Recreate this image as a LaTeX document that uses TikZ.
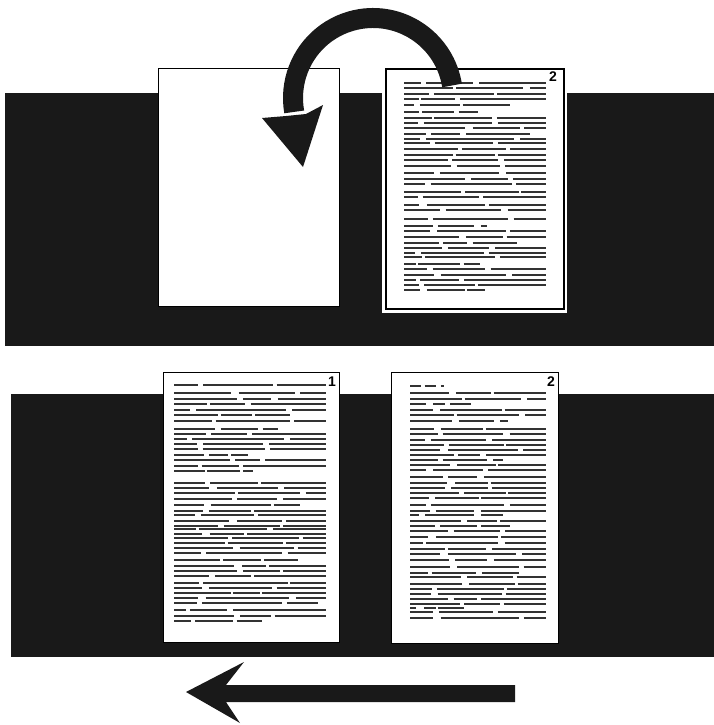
\documentclass[tikz,border=0pt]{standalone}
\usepackage{fontspec}
\setsansfont{Liberation Sans}
\tikzset{
  band/.style={fill=black!90, draw=none},
  paper/.style={fill=white, draw=black, line width=0.9},
  txt/.style={line width=1.4, draw=black!80},
  pnum/.style={font=\sffamily\bfseries\fontsize{14}{14}\selectfont, inner sep=0pt, text=black},
  bigarrow/.style={fill=black!90, draw=none}
}
\newcommand\pagetext[2]{%
  \foreach \yy/\xe in {#2}{%
    \pgfmathsetmacro\ga{#1+(\xe-#1)*(0.08+0.35*rnd)}%
    \pgfmathsetmacro\gb{\ga+2+6*rnd}%
    \pgfmathsetmacro\gc{\gb+(\xe-\gb)*(0.25+0.5*rnd)}%
    \pgfmathsetmacro\gd{\gc+2+5*rnd}%
    \draw[txt] (#1,\yy) -- (\ga,\yy) (\gb,\yy) -- (\gc,\yy) (\gd,\yy) -- (\xe,\yy);
  }%
}
\begin{document}
\begin{tikzpicture}[x=1pt,y=-1pt]
\pgfmathsetseed{1234}
\useasboundingbox (0,0) rectangle (714,725);
\fill[white] (0,0) rectangle (714,725);

% ---------- top panel ----------
\path[band] (5,93) rectangle (714,346);
\path[paper] (158,68) rectangle (339,306);
\fill[white] (382,67) rectangle (567,313);
\draw[line width=1.4] (386,69) rectangle (564,309);
\node[pnum] (ntop) at (553,77) {2};
\pagetext{404}{83/546, 88/546, 94/546, 99/546, 105/510, 112/478, 118/546, 123/546, 128/546, 134/530, 139/546, 143/546, 149/546, 155/546, 160/546, 166/546, 173/546, 179/546, 184/546, 192/546, 197/546, 205/546, 210/546, 219/546, 226/487, 231/546, 237/546, 243/517, 248/546, 253/546, 257/546, 264/480, 269/546, 275/546, 280/546, 285/546, 290/485}

% curved arrow
\draw[line width=20, black!90] (373,98) ++(-9:80) arc[start angle=-9, end angle=-190, radius=80];
\path[bigarrow] (262,118) -- (303,167) -- (323,105) -- (306,114) -- (286,116) -- cycle;

% ---------- bottom panel ----------
\path[band] (11,394) rectangle (714,657);
\path[paper] (163,372) rectangle (339,642);
\path[paper] (391,372) rectangle (558,643);
\node[pnum] (n1) at (332,382) {1};
\node[pnum] (n2) at (551,382) {2};
\pagetext{174}{385/326, 393/326, 399/326, 404/326, 410/326, 415/290, 421/326, 429/278, 434/326, 439/326, 444/326, 449/326, 455/248, 460/326, 466/326, 471/253, 483/326, 488/326, 493/326, 499/326, 505/300, 511/326, 515/326, 521/326, 526/326, 529/326, 534/326, 538/326, 543/326, 548/326, 553/326, 560/298, 566/326, 571/326, 576/326, 583/326, 588/326, 593/326, 598/326, 603/318, 610/326, 616/326, 621/262}
\pagetext{410}{386/444, 393/546, 399/546, 404/471, 410/546, 415/546, 421/508, 429/546, 434/546, 440/546, 445/546, 450/546, 455/546, 460/503, 465/546, 470/546, 477/546, 483/546, 488/546, 493/546, 498/546, 505/546, 511/546, 515/503, 521/546, 526/510, 531/546, 537/546, 543/546, 549/546, 554/546, 560/546, 567/546, 573/519, 577/546, 584/546, 589/546, 594/546, 599/546, 604/546, 608/464, 612/546, 618/546}

% straight arrow
\path[bigarrow] (186,692) -- (244,662) -- (226,685) -- (515,685) -- (515,702) -- (226,702) -- (240,723) -- cycle;
\end{tikzpicture}
\end{document}
